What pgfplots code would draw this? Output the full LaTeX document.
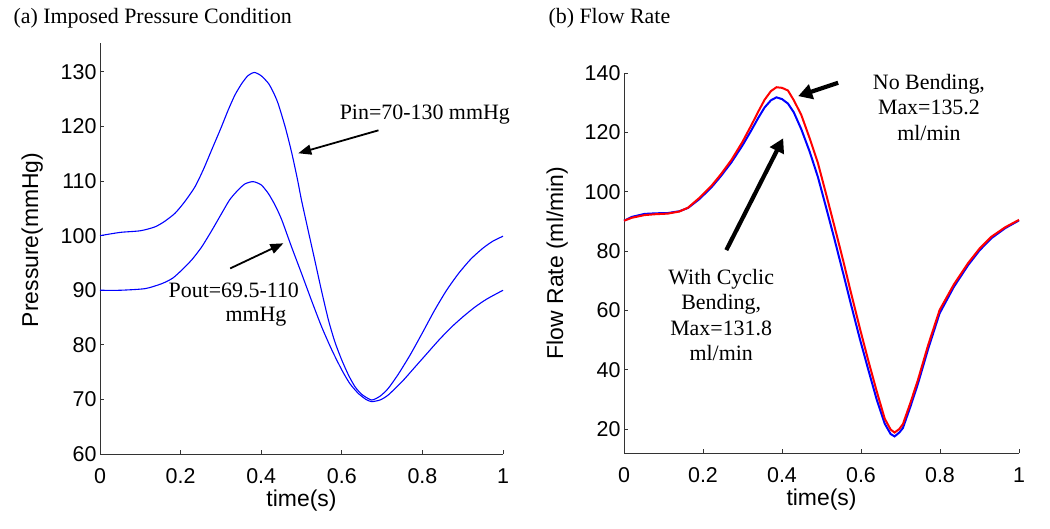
\documentclass[border=0pt]{standalone}
\usepackage{pgfplots}
\pgfplotsset{compat=1.18}
\usepackage{fontspec}
\setmainfont{Liberation Serif}
\setsansfont{Liberation Sans}
\usetikzlibrary{arrows.meta}
\newcommand{\tickfont}{\sffamily\fontsize{21.5}{25}\selectfont}
\newcommand{\labfont}{\sffamily\fontsize{23}{26}\selectfont}
\newcommand{\annfont}{\rmfamily\fontsize{22}{25.5}\selectfont}
\newcommand{\titfont}{\rmfamily\fontsize{22}{25}\selectfont}
\definecolor{axcol}{gray}{0.2}
\pgfplotsset{
  myax/.style={
    scale only axis, anchor=south west, clip=false,
    xmin=0, xmax=1,
    axis x line=bottom, axis y line=left,
    axis line style={-, axcol, line width=0.9bp},
    tick style={axcol, line width=0.9bp},
    tick align=inside, major tick length=4bp,
    xtick={0,0.2,0.4,0.6,0.8,1},
    ticklabel style={font=\tickfont},
    /pgf/number format/assume math mode=true,
    xticklabel style={/pgf/number format/fixed, yshift=-11bp},
    label style={font=\labfont},
    xlabel={time(s)},
    xlabel style={at={(axis description cs:0.5,0)}, anchor=base, yshift=-52.5bp},
  }
}
\begin{document}
\begin{tikzpicture}
\path[use as bounding box] (0,0) rectangle (1050bp,-529bp);
\node[anchor=base west, font=\titfont] at (10bp,-23bp) {(a) Imposed Pressure Condition};
\node[anchor=base west, font=\titfont] at (545bp,-23bp) {(b) Flow Rate};

\begin{axis}[myax, at={(100bp,-454bp)}, width=403bp, height=411bp,
  ymin=60, ymax=135.3, ytick={60,70,80,90,100,110,120,130},
  ylabel={Pressure(mmHg)},
  ylabel style={at={(axis description cs:0,0.521)}, anchor=base, yshift=62bp}]
\addplot[blue, line width=1.1bp, smooth, tension=0.4] table {
0 100.0
0.05 100.6
0.10 100.9
0.136 101.6
0.16 102.6
0.186 104.1
0.21 106.2
0.236 109.0
0.257 112.2
0.277 115.7
0.30 119.7
0.318 123.0
0.335 125.8
0.352 127.9
0.367 129.3
0.383 129.9
0.40 129.3
0.418 127.9
0.43 126.3
0.442 124.2
0.46 119.8
0.476 115.1
0.49 110.3
0.50 106.5
0.517 100.8
0.533 95.5
0.55 89.8
0.567 84.5
0.583 80.5
0.60 77.2
0.617 74.4
0.633 72.3
0.65 70.9
0.674 69.9
0.695 70.6
0.715 72.0
0.74 74.6
0.77 78.2
0.80 82.2
0.83 86.3
0.86 90.0
0.89 93.1
0.92 95.7
0.95 97.7
0.975 99.0
1.0 99.9
};
\addplot[blue, line width=1.1bp, smooth, tension=0.4] table {
0 90.0
0.05 90.0
0.112 90.3
0.153 91.2
0.18 92.2
0.203 93.7
0.228 95.6
0.252 97.9
0.277 100.9
0.302 104.1
0.322 106.6
0.343 108.4
0.36 109.5
0.380 109.9
0.40 109.3
0.418 107.7
0.435 105.5
0.451 102.9
0.475 98.0
0.50 93.1
0.525 88.1
0.55 83.3
0.575 79.1
0.60 75.4
0.62 72.9
0.641 71.1
0.66 70.0
0.674 69.6
0.695 69.9
0.715 70.8
0.75 73.3
0.78 75.8
0.81 78.3
0.84 80.8
0.87 83.1
0.90 85.1
0.93 86.9
0.96 88.4
1.0 90.0
};
\draw[line width=1.8bp, -{Triangle[length=13bp, width=10bp]}] (axis cs:0.691,119.3) -- (axis cs:0.492,115.1);
\draw[line width=1.8bp, -{Triangle[length=13bp, width=10bp]}] (axis cs:0.323,94.0) -- (axis cs:0.455,98.6);
\node[font=\annfont] at (axis cs:0.806,122.1) {Pin=70-130 mmHg};
\node[font=\annfont] at (axis cs:0.332,90.0) {Pout=69.5-110};
\node[font=\annfont] at (axis cs:0.387,85.1) {mmHg};
\end{axis}

\begin{axis}[myax, at={(624bp,-453bp)}, width=395bp, height=380bp,
  ymin=11.9, ymax=140, ytick={20,40,60,80,100,120,140},
  ylabel={Flow Rate (ml/min)},
  ylabel style={at={(axis description cs:0,0.5)}, anchor=base, yshift=61bp}]
\addplot[blue, line width=2bp] table {
0 90.2
0.02 91.5
0.052 92.5
0.08 92.7
0.111 92.8
0.14 93.4
0.162 94.5
0.19 97.4
0.221 101.4
0.245 105.2
0.272 109.9
0.30 115.6
0.322 120.6
0.34 124.9
0.356 128.4
0.372 130.8
0.386 131.8
0.40 131.2
0.415 129.7
0.43 126.7
0.449 121.0
0.47 113.5
0.491 104.9
0.512 94.5
0.533 83.9
0.555 72.4
0.575 61.8
0.597 50.4
0.618 40.2
0.64 29.8
0.660 21.8
0.675 18.3
0.685 17.5
0.697 18.8
0.706 20.3
0.725 27.5
0.744 35.2
0.77 47.0
0.799 59.0
0.835 67.9
0.871 75.2
0.90 80.2
0.93 84.3
0.965 87.7
1.0 90.3
};
\addplot[red, line width=2bp] table {
0 90.2
0.02 91.2
0.052 92.1
0.08 92.4
0.111 92.6
0.14 93.3
0.162 94.6
0.19 97.8
0.221 101.9
0.245 105.8
0.272 110.7
0.30 116.8
0.322 122.3
0.34 127.0
0.356 131.0
0.372 133.9
0.386 135.2
0.40 135.0
0.415 134.1
0.43 130.8
0.449 125.8
0.47 118.0
0.491 109.6
0.512 99.0
0.533 88.2
0.555 76.7
0.575 65.7
0.597 54.0
0.618 43.3
0.64 32.6
0.660 23.5
0.675 19.8
0.685 18.8
0.697 20.0
0.706 21.6
0.725 28.8
0.744 36.5
0.77 48.3
0.799 60.1
0.835 68.7
0.871 75.9
0.90 80.8
0.93 84.8
0.965 88.0
1.0 90.5
};
\draw[line width=4.2bp, -{Triangle[length=14bp, width=15bp]}] (axis cs:0.542,136.7) -- (axis cs:0.441,132.2);
\draw[line width=4.2bp, -{Triangle[length=14bp, width=15bp]}] (axis cs:0.259,80.3) -- (axis cs:0.403,118.0);
\node[font=\annfont, align=center] at (axis cs:0.772,128.5) {No Bending,\\Max=135.2\\ml/min};
\node[font=\annfont, align=center] at (axis cs:0.246,58.4) {With Cyclic\\Bending,\\Max=131.8\\ml/min};
\end{axis}
\end{tikzpicture}
\end{document}
